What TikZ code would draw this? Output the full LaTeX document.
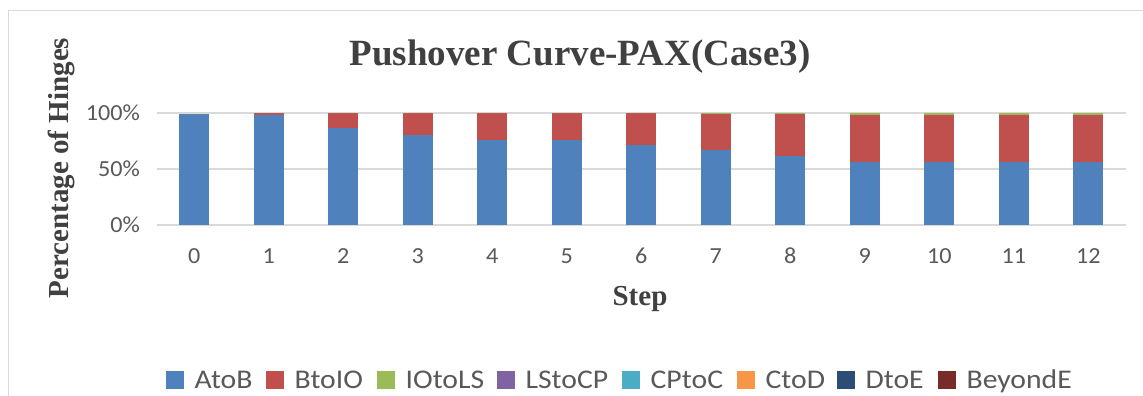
\documentclass[tikz,border=0pt]{standalone}
\usepackage{fontspec}
\setmainfont{Liberation Serif}
\newfontfamily\chartfont{Carlito}
\definecolor{atobc}{HTML}{4F81BD}
\definecolor{btoioc}{HTML}{C0504D}
\definecolor{iotolsc}{HTML}{9BBB59}
\definecolor{lstocpc}{HTML}{8064A2}
\definecolor{cptocc}{HTML}{4BACC6}
\definecolor{ctodc}{HTML}{F79646}
\definecolor{dtoec}{HTML}{2C4D75}
\definecolor{beyondc}{HTML}{772C2A}
\definecolor{gridgray}{HTML}{D9D9D9}
\definecolor{labelgray}{HTML}{595959}
\definecolor{titlegray}{HTML}{404040}
\begin{document}
\begin{tikzpicture}
    [ x=1pt, y=-1pt
    , every node/.style={inner sep=0pt}
    , gridline/.style={draw=gridgray, line width=1.3pt}
    , ticklabel/.style={font=\chartfont\fontsize{23}{23}\selectfont, text=labelgray, xscale=1.05}
    , axistitle/.style={font=\bfseries\fontsize{29}{29}\selectfont, text=titlegray}
    , legendbox/.style={minimum width=18pt, minimum height=18pt}
    , legendtext/.style={font=\chartfont\fontsize{27}{27}\selectfont, text=labelgray, anchor=base west, xscale=1.1}
    ]
    \useasboundingbox (0,0) rectangle (1143,396);
    \fill [white] (0,0) rectangle (1143,396);
    \draw [gridgray, line width=1pt] (8,396) -- (8,11) -- (1143,11);
    % grid and y ticks
    \foreach \p/\name in {0/zero, 50/half, 100/full} {
      \draw [gridline] (157,{225-1.12*\p}) -- (1126,{225-1.12*\p});
      \node [ticklabel, anchor=east] (tick\name) at (140,{225-1.12*\p}) {\p\%};
    }
    % stacked bars: AtoB / BtoIO / IOtoLS
    \foreach \i/\a/\b/\c in {0/99/0/0, 1/98.5/1.5/0, 2/86.8/13.2/0, 3/80/20/0,
        4/76/24/0, 5/76/24/0, 6/71/29/0, 7/66.8/32/1.2, 8/61.8/37/1.2,
        9/56.5/41.5/2, 10/56.5/41.5/2, 11/56.5/41.5/2, 12/56.5/41.5/2} {
      \pgfmathsetmacro\xc{194.3+74.5*\i}
      \fill [atobc] ({\xc-15},225) rectangle ({\xc+15},{225-1.12*\a});
      \fill [btoioc] ({\xc-15},{225-1.12*\a}) rectangle ({\xc+15},{225-1.12*(\a+\b)});
      \fill [iotolsc] ({\xc-15},{225-1.12*(\a+\b)}) rectangle ({\xc+15},{225-1.12*(\a+\b+\c)});
      \node [ticklabel, anchor=base] (step\i) at (\xc,263) {\i};
    }
    % titles
    \node [font=\bfseries\fontsize{37}{37}\selectfont, text=titlegray, anchor=base] (title)
      at (580,66) {Pushover Curve-PAX(Case3)};
    \node [axistitle, anchor=base] (xtitle) at (640,305) {Step};
    \node [axistitle, anchor=base, rotate=90] (ytitle) at (68,168) {Percentage of Hinges};
    % legend
    \foreach \x/\col/\lab in {166/atobc/AtoB, 266/btoioc/BtoIO, 377/iotolsc/IOtoLS,
        497/lstocpc/LStoCP, 622/cptocc/CPtoC, 737/ctodc/CtoD, 837/dtoec/DtoE,
        938/beyondc/BeyondE} {
      \node [legendbox, fill=\col, anchor=west] (box\lab) at (\x,380) {};
      \node [legendtext] (text\lab) at ([xshift=10pt] box\lab.east |- 0,388) {\lab};
    }
\end{tikzpicture}
\end{document}
